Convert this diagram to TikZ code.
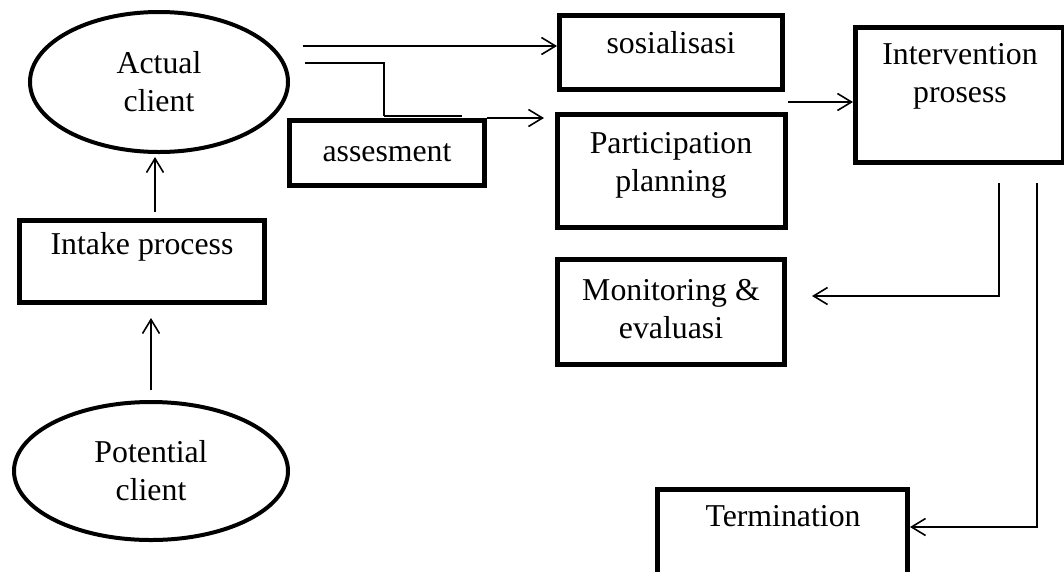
\documentclass[tikz,border=0pt]{standalone}
\usepackage{fontspec}
\setmainfont{Liberation Serif}
\usetikzlibrary{arrows.meta,shapes.geometric,calc}
\newcommand\dfont{\fontsize{31.8}{38}\selectfont}
\tikzset{
  boxnode/.style={draw, line width=5pt, inner sep=0pt, rectangle},
  ellnode/.style={draw, line width=4pt, inner sep=0pt, ellipse, align=center, font=\dfont},
  lbl/.style={align=center, inner sep=0pt, font=\dfont},
  conn/.style={line width=1.6pt},
  arr/.style={conn, -{Straight Barb[length=14pt,width=17pt,line width=1.6pt]}}
}
\begin{document}
\begin{tikzpicture}[x=1pt,y=-1pt]
\useasboundingbox (0,0) rectangle (1064,571);
\clip (0,0) rectangle (1064,571);
% ellipses
\node[ellnode, minimum width=258pt, minimum height=140pt] (act) at (159,82) {Actual\\client};
\node[ellnode, minimum width=274pt, minimum height=138pt] (pot) at (151,471) {Potential\\client};
% boxes
\node[boxnode, minimum width=245pt, minimum height=82pt] (intake) at (142,261.5) {};
\node[lbl] (intake-t) at (142,247) {Intake process};
\node[boxnode, minimum width=195pt, minimum height=65pt, font=\dfont] (ass) at (387,153) {assesment};
\node[boxnode, minimum width=223pt, minimum height=74pt] (sos) at (671,52.5) {};
\node[lbl] (sos-t) at (671,43) {sosialisasi};
\node[boxnode, minimum width=228pt, minimum height=113pt] (part) at (671.5,171) {};
\node[lbl] (part-t) at (671,165) {Participation\\planning};
\node[boxnode, minimum width=208pt, minimum height=135pt] (inter) at (959.5,95) {};
\node[lbl] (inter-t) at (960,76) {Intervention\\prosess};
\node[boxnode, minimum width=227pt, minimum height=105pt] (mon) at (671,312) {};
\node[lbl] (mon-t) at (671,309) {Monitoring \&\\evaluasi};
\node[boxnode, minimum width=250pt, minimum height=135pt] (term) at (782.5,557) {};
\node[lbl] (term-t) at (783,516) {Termination};
% connectors
\draw[arr] ([xshift=-4pt,yshift=6pt]intake.north -| act.south) -- ([xshift=-4pt,yshift=-3pt]act.south);
\draw[arr] ([yshift=10pt]pot.north) -- ([yshift=-13pt]pot.north |- intake.south);
\coordinate (s1) at (303,46);
\draw[arr] (s1) -- (s1 -| sos.west);
\coordinate (s2) at (305,63);
\draw[conn] (s2) -| ([xshift=-3pt,yshift=2pt]ass.north);
\draw[conn] ([xshift=-3pt,yshift=2pt]ass.north) -- ([xshift=75pt,yshift=2pt]ass.north);
\draw[arr] (ass.north east) -- ([xshift=-11pt]ass.north east -| part.west);
\coordinate (s4) at (788,102);
\draw[arr] (s4) -- (s4 -| inter.west);
\coordinate (v1) at (999,183);
\coordinate (v1b) at (999,296);
\draw[arr] (v1) -- (v1b) -- ([xshift=25pt]mon.east |- v1b);
\coordinate (v2) at (1037,183);
\coordinate (v2b) at (1037,527);
\draw[arr] (v2) -- (v2b) -- (term.east |- v2b);
\end{tikzpicture}
\end{document}
